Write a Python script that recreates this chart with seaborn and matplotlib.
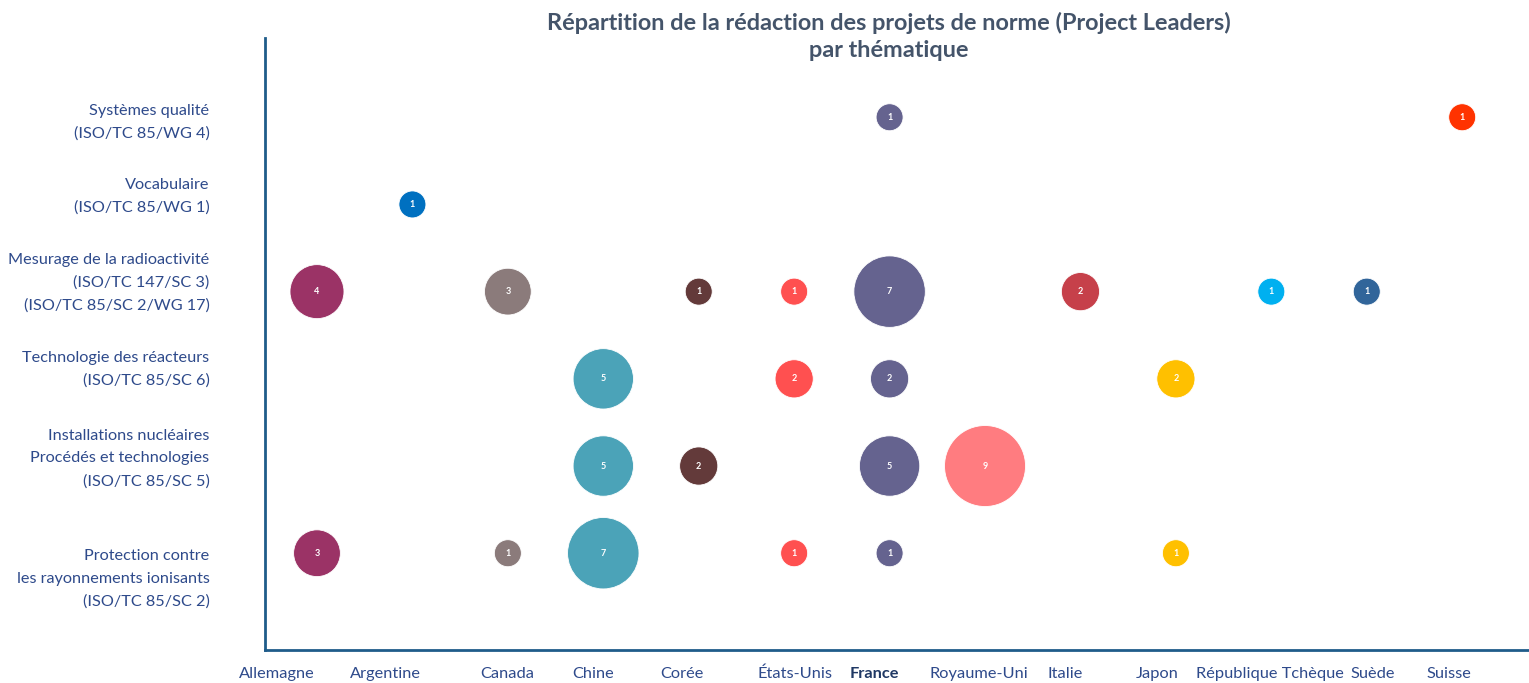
import matplotlib.pyplot as plt
import matplotlib.transforms as mtransforms
import seaborn as sns
import pandas as pd

# dataset
countries = ["Allemagne", "Argentine", "Canada", "Chine", "Corée", "États-Unis",
             "France", "Royaume-Uni", "Italie", "Japon", "République Tchèque",
             "Suède", "Suisse"]
colors = ["#9B3366", "#0070C0", "#8B7B7B", "#4BA3B8", "#633A3A", "#FF5050",
          "#65638F", "#FF7C80", "#C6404A", "#FFC000", "#00B0F0", "#31659A",
          "#FF3300"]
themes = ["Protection contre\nles rayonnements ionisants\n(ISO/TC 85/SC 2)",
          "Installations nucléaires\nProcédés et technologies\n(ISO/TC 85/SC 5)",
          "Technologie des réacteurs\n(ISO/TC 85/SC 6)",
          "Mesurage de la radioactivité\n(ISO/TC 147/SC 3)\n(ISO/TC 85/SC 2/WG 17)",
          "Vocabulaire\n(ISO/TC 85/WG 1)",
          "Systèmes qualité\n(ISO/TC 85/WG 4)"]

# (country, theme index, number of projects)
pt_country = ["France", "Suisse",
              "Argentine",
              "Allemagne", "Canada", "Corée", "États-Unis", "France", "Italie",
              "République Tchèque", "Suède",
              "Chine", "États-Unis", "France", "Japon",
              "Chine", "Corée", "France", "Royaume-Uni",
              "Allemagne", "Canada", "Chine", "États-Unis", "France", "Japon"]
pt_theme = [5, 5,
            4,
            3, 3, 3, 3, 3, 3, 3, 3,
            2, 2, 2, 2,
            1, 1, 1, 1,
            0, 0, 0, 0, 0, 0]
pt_value = [1, 1,
            1,
            4, 3, 1, 1, 7, 2, 1, 1,
            5, 2, 2, 2,
            5, 2, 5, 9,
            3, 1, 7, 1, 1, 1]

df = pd.DataFrame({"pays": pt_country, "theme": pt_theme, "n": pt_value})
df["x"] = df["pays"].map({c: i for i, c in enumerate(countries)})

plt.rcParams['font.family'] = ['Lato', 'DejaVu Sans']

fig = plt.figure(figsize=(15.29, 6.83), dpi=100, facecolor='white')
ax = fig.add_axes([0.1733, 0.0483, 0.8267, 0.8957])

sns.scatterplot(data=df, x="x", y="theme", hue="pays",
                palette=dict(zip(countries, colors)),
                size="n", sizes=(378, 3402), size_norm=(1, 9),
                edgecolor='white', linewidth=0.6, legend=False, ax=ax)

for _, r in df.iterrows():
    ax.text(r["x"], r["theme"], str(r["n"]), ha='center', va='center',
            fontsize=6.5, color='white', fontweight='bold')

ax.set_xlim(-0.545, 12.70)
ax.set_ylim(-1.11, 5.906)
ax.set_xlabel("")
ax.set_ylabel("")

ax.set_xticks(range(len(countries)))
ax.set_xticklabels(countries, fontsize=11.8, color='#2E4A8B')
ax.set_yticks(range(len(themes)))
ax.set_yticklabels(themes, fontsize=11.7, color='#2E4A8B', ha='right',
                   linespacing=1.75)
ax.tick_params(axis='both', length=0)
ax.tick_params(axis='x', pad=12)
ax.tick_params(axis='y', pad=40)

for lab in ax.get_xticklabels():
    if lab.get_text() == "France":
        lab.set_fontweight('bold')
        lab.set_color('#1F3864')

# label nudges as in the original layout (pixels)
x_shift = [-40, -27, -1, -10, -17, 1, -15, -6, -15, -19, -1, 6, -13]
for lab, dx in zip(ax.get_xticklabels(), x_shift):
    lab.set_transform(lab.get_transform() +
                      mtransforms.ScaledTranslation(dx / 100, 0, fig.dpi_scale_trans))
y_shift = [-20, 13, 15, 15, 14, 1]
for lab, dy in zip(ax.get_yticklabels(), y_shift):
    lab.set_transform(lab.get_transform() +
                      mtransforms.ScaledTranslation(0, dy / 100, fig.dpi_scale_trans))

for side in ['top', 'right']:
    ax.spines[side].set_visible(False)
for side in ['left', 'bottom']:
    ax.spines[side].set_color('#1F5C8A')
    ax.spines[side].set_linewidth(2)

fig.text(0.5814, 0.946,
         "Répartition de la rédaction des projets de norme (Project Leaders)\npar thématique",
         ha='center', va='center', fontsize=16.9, fontweight='bold',
         color='#44546A', linespacing=1.35)

plt.savefig("out.png", dpi=100, facecolor='white')
